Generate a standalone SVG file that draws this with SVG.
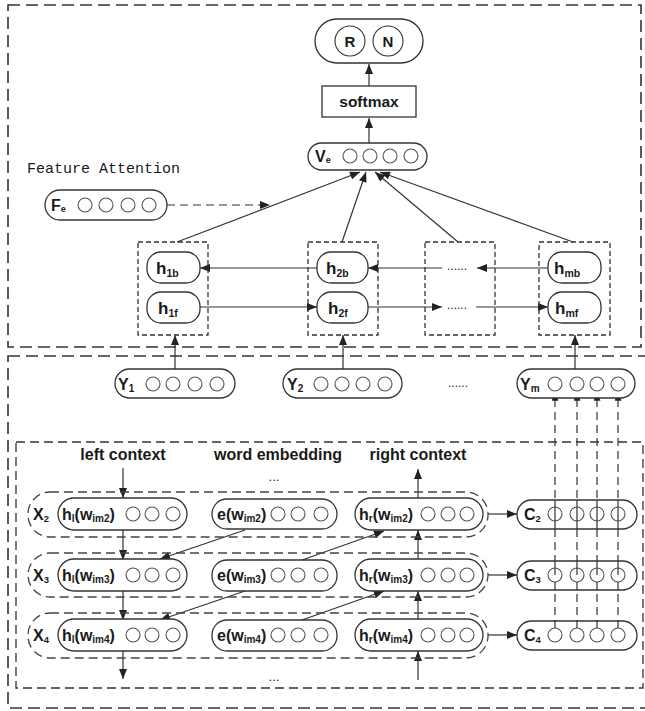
<svg xmlns="http://www.w3.org/2000/svg" width="645" height="711" viewBox="0 0 645 711">
<defs>
<style>
text{font-family:"Liberation Sans",Arial,sans-serif;font-weight:bold;fill:#1a1a1a}
.pill{fill:#fff;stroke:#333;stroke-width:1.3}
.c{fill:#fff;stroke:#555;stroke-width:1.1}
.box{fill:none;stroke:#333;stroke-width:1.3;stroke-dasharray:5,3}
.outer{fill:none;stroke:#333;stroke-width:1.6;stroke-dasharray:12,6}
.grp{fill:none;stroke:#444;stroke-width:1.3;stroke-dasharray:9,5}
.ln{fill:none;stroke:#333;stroke-width:1.2}
.dl{fill:none;stroke:#333;stroke-width:1.2;stroke-dasharray:8,5}
.m{font-size:16px}
.hh{font-size:17px}
.s{font-size:10.5px}
.dots{font-size:12px;font-weight:normal}
</style>
<marker id="ah" viewBox="0 0 10 8" refX="10" refY="4" markerWidth="11" markerHeight="8" markerUnits="userSpaceOnUse" orient="auto"><path d="M0,0 L10,4 L0,8 z" fill="#222"/></marker>
<marker id="as" viewBox="0 0 10 8" refX="10" refY="4" markerWidth="9" markerHeight="7" markerUnits="userSpaceOnUse" orient="auto"><path d="M0,0 L10,4 L0,8 z" fill="#222"/></marker>
</defs>
<rect width="645" height="711" fill="#fff"/>

<g id="regions">
<rect class="outer" x="8" y="5" width="633" height="342"/>
<rect class="outer" x="8" y="356" width="650" height="352"/>
<rect class="box" x="16" y="442" width="627" height="246" style="stroke-dasharray:9,5"/>
</g>

<g id="connectors">
<line class="ln" x1="369" y1="86" x2="369" y2="64" marker-end="url(#ah)"/>
<line class="ln" x1="369" y1="143" x2="369" y2="118" marker-end="url(#ah)"/>
<line class="ln" x1="177" y1="242" x2="360" y2="172" marker-end="url(#ah)"/>
<line class="ln" x1="342" y1="242" x2="366" y2="172" marker-end="url(#ah)"/>
<line class="ln" x1="458" y1="242" x2="375" y2="172" marker-end="url(#ah)"/>
<line class="ln" x1="573" y1="242" x2="380" y2="172" marker-end="url(#ah)"/>
<line class="ln" x1="167" y1="205" x2="270" y2="205" stroke-width="1.5" stroke-dasharray="8,5" marker-end="url(#ah)"/>
<line class="ln" x1="548" y1="268" x2="477" y2="268" marker-end="url(#ah)"/>
<line class="ln" x1="442" y1="268" x2="368" y2="268" marker-end="url(#ah)"/>
<line class="ln" x1="317" y1="268" x2="200" y2="268" marker-end="url(#ah)"/>
<line class="ln" x1="200" y1="307" x2="317" y2="307" marker-end="url(#ah)"/>
<line class="ln" x1="368" y1="307" x2="442" y2="307" marker-end="url(#ah)"/>
<line class="ln" x1="476" y1="307" x2="548" y2="307" marker-end="url(#ah)"/>
<line class="ln" x1="175" y1="369" x2="175" y2="335" marker-end="url(#ah)"/>
<line class="ln" x1="343" y1="369" x2="343" y2="335" marker-end="url(#ah)"/>
<line class="ln" x1="575" y1="369" x2="575" y2="335" marker-end="url(#ah)"/>
<line class="dl" x1="555" y1="628" x2="555" y2="392" marker-end="url(#as)"/>
<line class="dl" x1="577" y1="628" x2="577" y2="392" marker-end="url(#as)"/>
<line class="dl" x1="597" y1="628" x2="597" y2="392" marker-end="url(#as)"/>
<line class="dl" x1="618" y1="628" x2="618" y2="392" marker-end="url(#as)"/>
<line class="ln" x1="123" y1="468" x2="123" y2="498" marker-end="url(#ah)"/>
<line class="ln" x1="123" y1="530" x2="123" y2="560" marker-end="url(#ah)"/>
<line class="ln" x1="123" y1="591" x2="123" y2="620" marker-end="url(#ah)"/>
<line class="ln" x1="123" y1="651" x2="123" y2="679" marker-end="url(#ah)"/>
<line class="ln" x1="418" y1="498" x2="418" y2="469" marker-end="url(#ah)"/>
<line class="ln" x1="418" y1="560" x2="418" y2="530" marker-end="url(#ah)"/>
<line class="ln" x1="418" y1="620" x2="418" y2="591" marker-end="url(#ah)"/>
<line class="ln" x1="418" y1="680" x2="418" y2="651" marker-end="url(#ah)"/>
<line class="ln" x1="245" y1="530" x2="160" y2="559" marker-end="url(#ah)"/>
<line class="ln" x1="245" y1="591" x2="160" y2="620" marker-end="url(#ah)"/>
<line class="ln" x1="302" y1="560" x2="384" y2="531" marker-end="url(#ah)"/>
<line class="ln" x1="302" y1="620" x2="384" y2="591" marker-end="url(#ah)"/>
<line class="ln" x1="488" y1="514" x2="517" y2="514" marker-end="url(#ah)"/>
<line class="ln" x1="488" y1="575" x2="517" y2="575" marker-end="url(#ah)"/>
<line class="ln" x1="488" y1="635" x2="517" y2="635" marker-end="url(#ah)"/>
</g>

<g id="output">
<rect class="pill" x="315" y="19" width="108" height="44" rx="22"/>
<circle class="c" cx="350" cy="41" r="15" style="stroke:#333"/>
<circle class="c" cx="388" cy="41" r="15" style="stroke:#333"/>
<text x="350" y="47" font-size="15" text-anchor="middle">R</text>
<text x="388" y="47" font-size="15" text-anchor="middle">N</text>
</g>
<g id="softmax">
<rect x="322" y="86" width="94" height="31" fill="#fff" stroke="#333" stroke-width="1.3"/>
<text x="369" y="107" font-size="15.5" text-anchor="middle">softmax</text>
</g>
<g id="Ve">
<rect class="pill" x="308" y="143" width="119" height="27" rx="13.5"/>
<text x="315" y="162" font-size="16">V<tspan font-size="9" dy="1">e</tspan></text>
<circle class="c" cx="350" cy="156" r="7"/><circle class="c" cx="370" cy="156" r="7"/><circle class="c" cx="390" cy="156" r="7"/><circle class="c" cx="411" cy="156" r="7"/>
</g>
<text x="27" y="173" style="font-family:'Liberation Mono','DejaVu Sans Mono',monospace;font-weight:normal;font-size:15px">Feature Attention</text>
<g id="Fe">
<rect class="pill" x="45" y="190" width="122" height="30" rx="15"/>
<text x="51" y="211" font-size="16">F<tspan font-size="9" dy="1">e</tspan></text>
<circle class="c" cx="85" cy="205" r="7"/><circle class="c" cx="106" cy="205" r="7"/><circle class="c" cx="128" cy="205" r="7"/><circle class="c" cx="149" cy="205" r="7"/>
</g>

<g id="h1">
<rect class="box" x="138" y="242" width="70" height="93"/>
<rect class="pill" x="147" y="252" width="53" height="31" rx="14"/>
<text x="156" y="274" class="hh">h<tspan class="s" dy="3">1b</tspan></text>
<rect class="pill" x="147" y="292" width="53" height="31" rx="14"/>
<text x="158" y="314" class="hh">h<tspan class="s" dy="3">1f</tspan></text>
</g>
<g id="h2">
<rect class="box" x="308" y="242" width="70" height="93"/>
<rect class="pill" x="317" y="252" width="51" height="31" rx="14"/>
<text x="326" y="274" class="hh">h<tspan class="s" dy="3">2b</tspan></text>
<rect class="pill" x="317" y="292" width="51" height="31" rx="14"/>
<text x="328" y="314" class="hh">h<tspan class="s" dy="3">2f</tspan></text>
</g>
<g id="hdots">
<rect class="box" x="425" y="242" width="70" height="93"/>
<text x="447" y="270" class="dots">......</text>
<text x="447" y="309" class="dots">......</text>
</g>
<g id="hm">
<rect class="box" x="539" y="242" width="71" height="93"/>
<rect class="pill" x="548" y="252" width="53" height="31" rx="14"/>
<text x="554" y="274" class="hh">h<tspan class="s" dy="3">mb</tspan></text>
<rect class="pill" x="548" y="292" width="53" height="31" rx="14"/>
<text x="555" y="314" class="hh">h<tspan class="s" dy="3">mf</tspan></text>
</g>

<g id="Y1">
<rect class="pill" x="115" y="369" width="120" height="29" rx="14.5"/>
<text x="118" y="390" font-size="16">Y<tspan font-size="10" dy="2">1</tspan></text>
<circle class="c" cx="153" cy="384" r="7"/><circle class="c" cx="173" cy="384" r="7"/><circle class="c" cx="195" cy="384" r="7"/><circle class="c" cx="217" cy="384" r="7"/>
</g>
<g id="Y2">
<rect class="pill" x="283" y="369" width="119" height="29" rx="14.5"/>
<text x="287" y="390" font-size="16">Y<tspan font-size="10" dy="2">2</tspan></text>
<circle class="c" cx="321" cy="384" r="7"/><circle class="c" cx="342" cy="384" r="7"/><circle class="c" cx="363" cy="384" r="7"/><circle class="c" cx="385" cy="384" r="7"/>
</g>
<text x="448" y="387" class="dots">......</text>
<g id="Ym">
<rect class="pill" x="517" y="369" width="118" height="29" rx="14.5"/>
<text x="520" y="390" font-size="16">Y<tspan font-size="10" dy="2">m</tspan></text>
<circle class="c" cx="555" cy="384" r="7"/><circle class="c" cx="577" cy="384" r="7"/><circle class="c" cx="597" cy="384" r="7"/><circle class="c" cx="618" cy="384" r="7"/>
</g>

<text x="123" y="460" class="m" text-anchor="middle">left context</text>
<text x="278" y="460" class="m" text-anchor="middle">word embedding</text>
<text x="418" y="460" class="m" text-anchor="middle">right context</text>
<text x="274" y="481" font-size="13" text-anchor="middle" style="font-weight:normal">...</text>
<text x="274" y="681" font-size="13" text-anchor="middle" style="font-weight:normal">...</text>

<g id="X2">
<rect class="grp" x="28" y="492" width="460" height="45" rx="22"/>
<text x="33" y="520" font-size="16">X<tspan font-size="9.5" dy="2">2</tspan></text>
<rect class="pill" x="58" y="498" width="129" height="32" rx="16"/>
<text x="62" y="520" class="m">h<tspan font-size="10" dy="2">l</tspan><tspan dy="-2">(w</tspan><tspan font-size="10" dy="2">im2</tspan><tspan dy="-2">)</tspan></text>
<circle class="c" cx="133" cy="514" r="7"/><circle class="c" cx="152" cy="514" r="7"/><circle class="c" cx="173" cy="514" r="7"/>
<rect class="pill" x="212" y="499" width="125" height="30" rx="15"/>
<text x="217" y="520" class="m">e(w<tspan font-size="10" dy="2">im2</tspan><tspan dy="-2">)</tspan></text>
<circle class="c" cx="278" cy="514" r="7"/><circle class="c" cx="298" cy="514" r="7"/><circle class="c" cx="321" cy="514" r="7"/>
<rect class="pill" x="355" y="498" width="128" height="32" rx="16"/>
<text x="359" y="520" class="m">h<tspan font-size="10" dy="2">r</tspan><tspan dy="-2">(w</tspan><tspan font-size="10" dy="2">im2</tspan><tspan dy="-2">)</tspan></text>
<circle class="c" cx="428" cy="514" r="7"/><circle class="c" cx="448" cy="514" r="7"/><circle class="c" cx="467" cy="514" r="7"/>
</g>
<g id="X3">
<rect class="grp" x="28" y="553" width="460" height="44" rx="22"/>
<text x="33" y="581" font-size="16">X<tspan font-size="9.5" dy="2">3</tspan></text>
<rect class="pill" x="58" y="559" width="129" height="32" rx="16"/>
<text x="62" y="581" class="m">h<tspan font-size="10" dy="2">l</tspan><tspan dy="-2">(w</tspan><tspan font-size="10" dy="2">im3</tspan><tspan dy="-2">)</tspan></text>
<circle class="c" cx="133" cy="575" r="7"/><circle class="c" cx="152" cy="575" r="7"/><circle class="c" cx="173" cy="575" r="7"/>
<rect class="pill" x="212" y="560" width="125" height="31" rx="15"/>
<text x="217" y="581" class="m">e(w<tspan font-size="10" dy="2">im3</tspan><tspan dy="-2">)</tspan></text>
<circle class="c" cx="278" cy="575" r="7"/><circle class="c" cx="298" cy="575" r="7"/><circle class="c" cx="321" cy="575" r="7"/>
<rect class="pill" x="355" y="559" width="128" height="32" rx="16"/>
<text x="359" y="581" class="m">h<tspan font-size="10" dy="2">r</tspan><tspan dy="-2">(w</tspan><tspan font-size="10" dy="2">im3</tspan><tspan dy="-2">)</tspan></text>
<circle class="c" cx="428" cy="575" r="7"/><circle class="c" cx="448" cy="575" r="7"/><circle class="c" cx="467" cy="575" r="7"/>
</g>
<g id="X4">
<rect class="grp" x="28" y="613" width="460" height="45" rx="22"/>
<text x="33" y="641" font-size="16">X<tspan font-size="9.5" dy="2">4</tspan></text>
<rect class="pill" x="58" y="619" width="129" height="32" rx="16"/>
<text x="62" y="641" class="m">h<tspan font-size="10" dy="2">l</tspan><tspan dy="-2">(w</tspan><tspan font-size="10" dy="2">im4</tspan><tspan dy="-2">)</tspan></text>
<circle class="c" cx="133" cy="635" r="7"/><circle class="c" cx="152" cy="635" r="7"/><circle class="c" cx="173" cy="635" r="7"/>
<rect class="pill" x="212" y="620" width="125" height="31" rx="15"/>
<text x="217" y="641" class="m">e(w<tspan font-size="10" dy="2">im4</tspan><tspan dy="-2">)</tspan></text>
<circle class="c" cx="278" cy="635" r="7"/><circle class="c" cx="298" cy="635" r="7"/><circle class="c" cx="321" cy="635" r="7"/>
<rect class="pill" x="355" y="619" width="128" height="32" rx="16"/>
<text x="359" y="641" class="m">h<tspan font-size="10" dy="2">r</tspan><tspan dy="-2">(w</tspan><tspan font-size="10" dy="2">im4</tspan><tspan dy="-2">)</tspan></text>
<circle class="c" cx="428" cy="635" r="7"/><circle class="c" cx="448" cy="635" r="7"/><circle class="c" cx="467" cy="635" r="7"/>
</g>

<g id="C2">
<rect class="pill" x="517" y="500" width="120" height="29" rx="14.5"/>
<text x="524" y="520" font-size="16">C<tspan font-size="9.5" dy="2">2</tspan></text>
<circle class="c" cx="555" cy="514" r="7"/><circle class="c" cx="577" cy="514" r="7"/><circle class="c" cx="597" cy="514" r="7"/><circle class="c" cx="618" cy="514" r="7"/>
<path class="ln" d="M555,500V529M577,500V529M597,500V529M618,500V529"/>
</g>
<g id="C3">
<rect class="pill" x="517" y="561" width="120" height="29" rx="14.5"/>
<text x="524" y="581" font-size="16">C<tspan font-size="9.5" dy="2">3</tspan></text>
<circle class="c" cx="555" cy="575" r="7"/><circle class="c" cx="577" cy="575" r="7"/><circle class="c" cx="597" cy="575" r="7"/><circle class="c" cx="618" cy="575" r="7"/>
<path class="ln" d="M555,561V575M577,561V575M597,561V575M618,561V575M555,582V590M577,582V590M597,582V590M618,582V590"/>
</g>
<g id="C4">
<rect class="pill" x="517" y="621" width="120" height="29" rx="14.5"/>
<text x="524" y="641" font-size="16">C<tspan font-size="9.5" dy="2">4</tspan></text>
<circle class="c" cx="555" cy="635" r="7"/><circle class="c" cx="577" cy="635" r="7"/><circle class="c" cx="597" cy="635" r="7"/><circle class="c" cx="618" cy="635" r="7"/>
<path class="ln" d="M555,621V628M577,621V628M597,621V628M618,621V628"/>
</g>
</svg>
